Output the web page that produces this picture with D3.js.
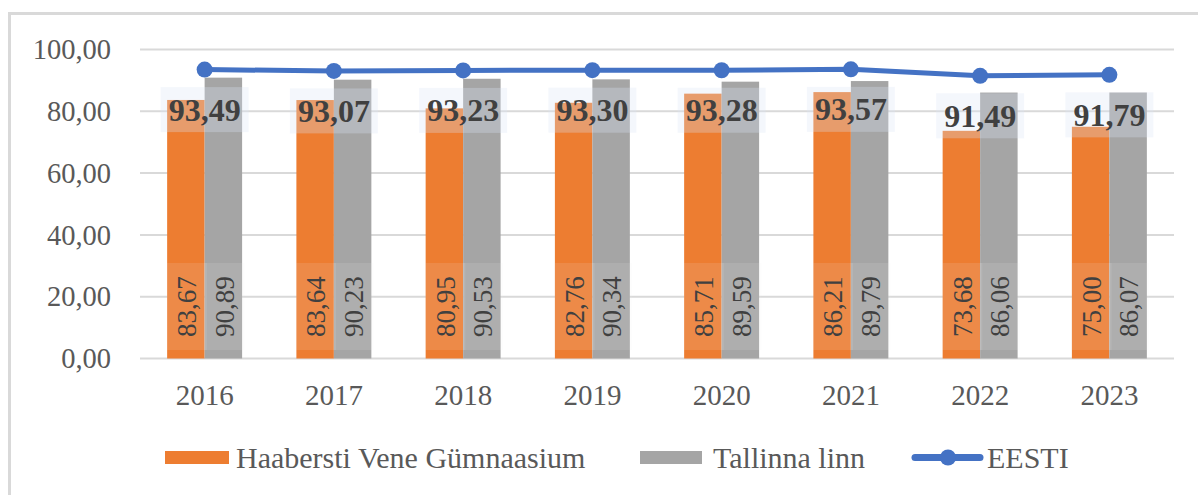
<!DOCTYPE html>
<html>
<head>
<meta charset="utf-8">
<script src="https://cdn.jsdelivr.net/npm/d3@7"></script>
<style>
  body { margin: 0; background: #fff; }
  svg { display: block; font-family: "Liberation Serif", "Times New Roman", serif; }
</style>
</head>
<body>
<svg id="canvas"></svg>
<script>
const width = 1198;
const height = 495;

const years = ["2016", "2017", "2018", "2019", "2020", "2021", "2022", "2023"];
const school = [83.67, 83.64, 80.95, 82.76, 85.71, 86.21, 73.68, 75.00];
const city = [90.89, 90.23, 90.53, 90.34, 89.59, 89.79, 86.06, 86.07];
const eesti = [93.49, 93.07, 93.23, 93.30, 93.28, 93.57, 91.49, 91.79];
const yTicks = [0, 20, 40, 60, 80, 100];
const seriesNames = ["Haabersti Vene Gümnaasium", "Tallinna linn", "EESTI"];
const colors = ["#ED7D31", "#A5A5A5", "#4472C4"];

const locale = d3.formatLocale({ decimal: ",", thousands: " ", grouping: [3], currency: ["", "€"] });
const fmt = locale.format(".2f");

let svg = d3.select("#canvas").attr("width", width).attr("height", height);

// chart frame
svg.append("rect")
    .attr("x", 9.5).attr("y", 13.5)
    .attr("width", 1200).attr("height", 500)
    .attr("fill", "none").attr("stroke", "#d9d9d9").attr("stroke-width", 3);

const x0 = d3.scaleBand().domain(years).range([140, 1174]).paddingInner(0.42).paddingOuter(0.21);
const x1 = d3.scaleBand().domain([0, 1]).range([0, x0.bandwidth()]);
const y = d3.scaleLinear().domain([0, 100]).range([358.5, 49.5]);

// gridlines
svg.append("g").selectAll("line")
    .data(yTicks)
    .enter().append("line")
    .attr("x1", 140).attr("x2", 1174)
    .attr("y1", d => y(d)).attr("y2", d => y(d))
    .attr("stroke", "#d9d9d9").attr("stroke-width", 2);

// y labels
svg.append("g").selectAll("text")
    .data(yTicks)
    .enter().append("text")
    .attr("x", 111).attr("y", d => y(d))
    .attr("dy", "0.34em")
    .attr("text-anchor", "end")
    .attr("font-size", 28.5)
    .attr("fill", "#595959")
    .text(d => fmt(d));

// x labels
svg.append("g").selectAll("text")
    .data(years)
    .enter().append("text")
    .attr("x", d => x0(d) + x0.bandwidth() / 2)
    .attr("y", 405)
    .attr("text-anchor", "middle")
    .attr("font-size", 29)
    .attr("fill", "#595959")
    .text(d => d);

// bars
const barData = [];
years.forEach((yr, i) => {
    barData.push({ year: yr, s: 0, v: school[i] });
    barData.push({ year: yr, s: 1, v: city[i] });
});

svg.append("g").selectAll("rect")
    .data(barData)
    .enter().append("rect")
    .attr("x", d => x0(d.year) + x1(d.s))
    .attr("y", d => y(d.v))
    .attr("width", x1.bandwidth())
    .attr("height", d => y(0) - y(d.v))
    .attr("fill", d => colors[d.s]);

// bar value labels (rotated, near bottom)
let barLabels = svg.append("g").selectAll("g")
    .data(barData)
    .enter().append("g")
    .attr("transform", d => `translate(${x0(d.year) + x1(d.s) + x1.bandwidth() / 2 + 1},306.5)`);

barLabels.append("rect")
    .attr("x", -20).attr("y", -43.5)
    .attr("width", 40).attr("height", 87)
    .attr("fill", "#f2f2f2").attr("opacity", 0.12);

barLabels.append("text")
    .attr("transform", "rotate(-90)")
    .attr("text-anchor", "middle")
    .attr("dy", "0.34em")
    .attr("font-size", 27)
    .attr("fill", "#404040")
    .text(d => fmt(d.v));

// EESTI line
const cx = (d, i) => x0(years[i]) + x0.bandwidth() / 2;
const line = d3.line().x((d, i) => cx(d, i)).y(d => y(d));

svg.append("path")
    .datum(eesti)
    .attr("d", line)
    .attr("fill", "none")
    .attr("stroke", colors[2])
    .attr("stroke-width", 5)
    .attr("stroke-linejoin", "round");

svg.append("g").selectAll("circle")
    .data(eesti)
    .enter().append("circle")
    .attr("cx", (d, i) => cx(d, i))
    .attr("cy", d => y(d))
    .attr("r", 8)
    .attr("fill", colors[2]);

// EESTI labels
let lineLabels = svg.append("g").selectAll("g")
    .data(eesti)
    .enter().append("g")
    .attr("transform", (d, i) => `translate(${cx(d, i)},${y(d) + 40})`);

lineLabels.append("rect")
    .attr("x", -44).attr("y", -22.5)
    .attr("width", 88).attr("height", 45)
    .attr("fill", "#dce6f4").attr("opacity", 0.3);

lineLabels.append("text")
    .attr("text-anchor", "middle")
    .attr("y", 11)
    .attr("font-size", 32)
    .attr("font-weight", "bold")
    .attr("fill", "#404040")
    .text(d => fmt(d));

// legend
const legend = svg.append("g").attr("font-size", 30).attr("fill", "#595959");
const legendX = [165, 640, 912];

legend.append("rect").attr("x", legendX[0]).attr("y", 451).attr("width", 64).attr("height", 13).attr("fill", colors[0]);
legend.append("rect").attr("x", legendX[1]).attr("y", 451).attr("width", 62).attr("height", 13).attr("fill", colors[1]);
legend.append("line")
    .attr("x1", legendX[2] + 3).attr("x2", legendX[2] + 68)
    .attr("y1", 457.5).attr("y2", 457.5)
    .attr("stroke", colors[2]).attr("stroke-width", 7).attr("stroke-linecap", "round");
legend.append("circle").attr("cx", legendX[2] + 36).attr("cy", 457.5).attr("r", 8).attr("fill", colors[2]);

legend.selectAll("text")
    .data(seriesNames)
    .enter().append("text")
    .attr("x", (d, i) => [236, 713, 987][i])
    .attr("y", 468)
    .text(d => d);
</script>
</body>
</html>
